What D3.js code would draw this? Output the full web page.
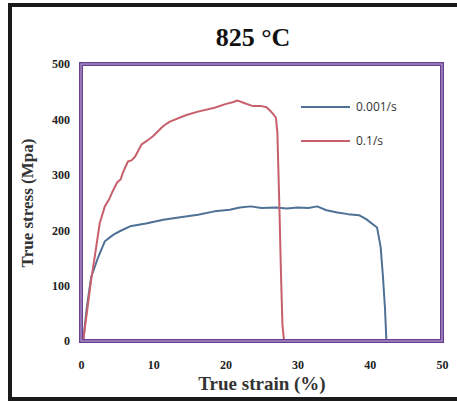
<!DOCTYPE html>
<html>
<head>
<meta charset="utf-8">
<script src="https://cdn.jsdelivr.net/npm/d3@7"></script>
<style>
  body { margin: 0; background: #fff; }
  svg { display: block; }
</style>
</head>
<body>
<svg id="chart" width="457" height="401"></svg>
<script>
// strain (%) / stress (MPa)
const slowStrain = [0.3, 0.8, 1.4, 2.4, 3.3, 4.5, 5.5, 6.8, 9.0, 11.4, 14.0, 16.2, 18.5, 20.6, 22.0, 23.5, 25.0, 27.0, 28.5, 30.0, 31.5, 32.7, 34.0, 35.5, 37.0, 38.5, 39.5, 41.0, 41.5, 41.8, 42.1, 42.3];
const slowStress = [0, 60, 115, 152, 180, 192, 199, 207, 212, 219, 224, 228, 234, 237, 241, 243, 240, 241, 239, 241, 240, 243, 236, 232, 229, 227, 220, 205, 170, 120, 60, 0];
const fastStrain = [0.3, 0.9, 1.4, 1.9, 2.6, 3.3, 3.9, 4.3, 5.0, 5.5, 5.8, 6.5, 7.0, 7.5, 8.4, 9.2, 10.0, 11.4, 12.3, 14.6, 16.2, 18.5, 20.1, 21.0, 21.7, 22.5, 23.8, 25.0, 25.7, 26.1, 26.6, 27.0, 27.2, 27.3, 27.5, 27.7, 27.9, 28.1, 28.6];
const fastStress = [0, 60, 110, 152, 213, 243, 256, 268, 286, 292, 304, 324, 326, 333, 355, 362, 370, 388, 396, 408, 414, 421, 428, 431, 434, 430, 424, 424, 422, 417, 410, 403, 376, 327, 230, 120, 30, 3, 0];
const xTicks = [0, 10, 20, 30, 40, 50];
const yTicks = [0, 100, 200, 300, 400, 500];
const seriesNames = ['0.001/s', '0.1/s'];
const seriesColors = ['#4f7196', '#c7606c'];

const svg = d3.select('#chart');

// outer black border (right side is cut off in the original)
svg.append('path')
    .attr('d', 'M457,5 H10 V399 H457')
    .attr('fill', 'none')
    .attr('stroke', '#1a1a1a')
    .attr('stroke-width', 4);

const plotLeft = 81, plotRight = 442, plotTop = 64, plotBottom = 341;
const x = d3.scaleLinear().domain([0, 50]).range([plotLeft, plotRight]);
const y = d3.scaleLinear().domain([0, 500]).range([plotBottom, plotTop]);

// title
svg.append('text')
    .attr('x', 253).attr('y', 46)
    .attr('text-anchor', 'middle')
    .attr('font-family', 'Liberation Serif, Times New Roman, serif')
    .attr('font-weight', 'bold')
    .attr('font-size', 26)
    .attr('fill', '#111')
    .text('825 °C');

// tick labels
const tickFont = 'Liberation Serif, Times New Roman, serif';
svg.append('g')
    .attr('transform', `translate(0,${plotBottom + 24})`)
    .call(d3.axisBottom(x).tickValues(xTicks).tickSize(0).tickPadding(0))
    .call(g => g.select('.domain').remove())
    .selectAll('text')
    .attr('font-family', tickFont).attr('font-weight', 'bold')
    .attr('font-size', 12).attr('fill', '#222').attr('dy', '0.35em');

svg.append('g')
    .attr('transform', `translate(${plotLeft - 11},0)`)
    .call(d3.axisLeft(y).tickValues(yTicks).tickSize(0).tickPadding(0))
    .call(g => g.select('.domain').remove())
    .selectAll('text')
    .attr('font-family', tickFont).attr('font-weight', 'bold')
    .attr('font-size', 12).attr('fill', '#222');

// axis titles
svg.append('text')
    .attr('x', 262).attr('y', 390)
    .attr('text-anchor', 'middle')
    .attr('font-family', tickFont).attr('font-weight', 'bold')
    .attr('font-size', 19).attr('fill', '#333')
    .text('True strain (%)');

svg.append('text')
    .attr('transform', 'translate(33,203) rotate(-90)')
    .attr('text-anchor', 'middle')
    .attr('font-family', tickFont).attr('font-weight', 'bold')
    .attr('font-size', 17).attr('fill', '#333')
    .text('True stress (Mpa)');

// curves
const line = d3.line()
    .x(d => x(d[0]))
    .y(d => y(d[1]))
    .curve(d3.curveLinear);

const series = [
    d3.zip(slowStrain, slowStress),
    d3.zip(fastStrain, fastStress)
];

series.forEach((pts, i) => {
    svg.append('path')
        .datum(pts)
        .attr('d', line)
        .attr('fill', 'none')
        .attr('stroke', seriesColors[i])
        .attr('stroke-width', 2)
        .attr('stroke-linejoin', 'round');
});

// purple frame, drawn as a double line
svg.append('rect')
    .attr('x', plotLeft).attr('y', plotTop)
    .attr('width', plotRight - plotLeft).attr('height', plotBottom - plotTop)
    .attr('fill', 'none')
    .attr('stroke', '#6b3f94')
    .attr('stroke-width', 4);
svg.append('rect')
    .attr('x', plotLeft).attr('y', plotTop)
    .attr('width', plotRight - plotLeft).attr('height', plotBottom - plotTop)
    .attr('fill', 'none')
    .attr('stroke', '#c2b0d8')
    .attr('stroke-width', 1);

// legend
const legend = svg.append('g');
seriesNames.forEach((name, i) => {
    const ly = 107 + i * 34;
    legend.append('line')
        .attr('x1', 301).attr('x2', 350)
        .attr('y1', ly).attr('y2', ly)
        .attr('stroke', seriesColors[i])
        .attr('stroke-width', 2);
    legend.append('text')
        .attr('x', 356).attr('y', ly)
        .attr('dy', '0.35em')
        .attr('font-family', 'Open Sans, Liberation Sans, sans-serif')
        .attr('font-size', 12)
        .attr('fill', '#333')
        .text(name);
});
</script>
</body>
</html>
